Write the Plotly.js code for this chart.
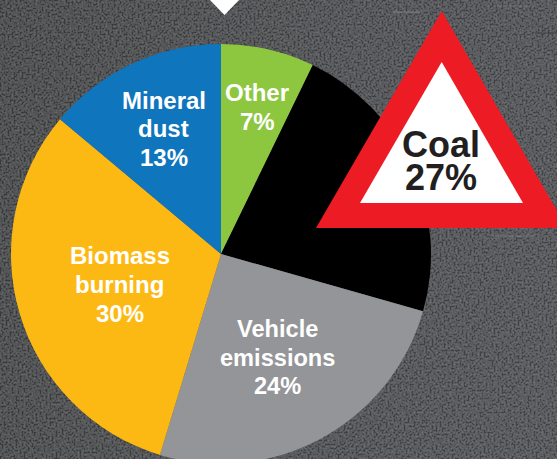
<!DOCTYPE html>
<html>
<head>
<meta charset="utf-8">
<script src="https://cdn.plot.ly/plotly-3.0.1.min.js"></script>
<style>
html,body{margin:0;padding:0;width:557px;height:459px;overflow:hidden;background:#55565a;}
#bg{position:absolute;left:0;top:0;width:557px;height:459px;
 background:linear-gradient(100deg,#4a4c4e 0%,#525457 45%,#585a5f 100%);}
#noise{position:absolute;left:0;top:0;width:557px;height:459px;opacity:.25;}
#chart{position:absolute;left:0;top:0;width:557px;height:480px;}
</style>
</head>
<body>
<div id="bg"></div>
<svg id="noise" width="557" height="459"><filter id="n" x="0" y="0" width="100%" height="100%"><feTurbulence type="fractalNoise" baseFrequency="0.5" numOctaves="2" seed="4"/><feColorMatrix type="matrix" values="1 0 0 0 -0.36  1 0 0 0 -0.36  1 0 0 0 -0.36  0 0 0 0 1"/></filter><rect width="557" height="459" filter="url(#n)"/></svg>
<div id="chart"></div>
<script>
// Sector shares as drawn (measured from the wedge angles in the picture)
var categories = ["Other", "Coal", "Vehicle emissions", "Biomass burning", "Mineral dust"];
var drawnShares = [7.2, 22.2, 25.3, 31.4, 13.9];
// Percentages as printed on the chart
var printedPercent = ["7%", "27%", "24%", "30%", "13%"];
var labelLines = [["Other"], ["Coal"], ["Vehicle", "emissions"], ["Biomass", "burning"], ["Mineral", "dust"]];
var sliceColors = ["#8dc63f", "#000000", "#939598", "#fdb913", "#0f75bd"];

var W = 557, H = 480;
function px(x){ return x / W; }
function py(y){ return 1 - y / H; }

// label block layout: centre x, first line y, line step, font size, colour
var blocks = [
  {x:257, y:93,  step:28.5, size:24, color:"#ffffff"},
  {x:440.5, y:145, step:32.5, size:36, color:"#231f20"},
  {x:277.5, y:329, step:28.5, size:23.6, color:"#ffffff"},
  {x:119.5, y:255, step:29,   size:24, color:"#ffffff"},
  {x:163.5, y:100, step:28.5, size:24, color:"#ffffff"}
];
var annotations = [];
categories.forEach(function(c, i){
  var lines = labelLines[i].concat([printedPercent[i]]);
  var b = blocks[i];
  lines.forEach(function(t, k){
    annotations.push({
      text: t, xref:"paper", yref:"paper", showarrow:false,
      x: px(b.x), y: py(b.y + k * b.step), xanchor:"center", yanchor:"middle",
      font:{family:"Liberation Sans, Arial, sans-serif", size:b.size, color:b.color, weight:700}
    });
  });
});

function tri(a, b, c){
  return "M" + px(a[0]) + "," + py(a[1]) + " L" + px(b[0]) + "," + py(b[1]) + " L" + px(c[0]) + "," + py(c[1]) + " Z";
}
function streak(x0, x1, y, color){
  return {type:"line", xref:"paper", yref:"paper", x0:px(x0), x1:px(x1), y0:py(y), y1:py(y),
          line:{color:color, width:1}, layer:"below"};
}
var shapes = [
  streak(393, 422, 12, "rgba(170,175,180,0.4)"),
  streak(495, 530, 6, "rgba(170,175,170,0.25)"),
  streak(535, 557, 33, "rgba(25,25,30,0.45)"),
  streak(490, 535, 236, "rgba(170,175,170,0.3)"),
  {type:"path", xref:"paper", yref:"paper", path:tri([441.7,11],[316,228],[567,228]), fillcolor:"#ed1c24", line:{width:0}},
  {type:"path", xref:"paper", yref:"paper", path:tri([441.7,62],[360,203],[523,203]), fillcolor:"#ffffff", line:{width:0}},
  {type:"path", xref:"paper", yref:"paper", path:tri([224.5,15],[208,-2],[241,-2]), fillcolor:"#ffffff", line:{width:0}}
];

Plotly.newPlot("chart", [{
  type:"pie",
  labels: categories,
  values: drawnShares,
  sort:false,
  direction:"clockwise",
  rotation:0,
  textinfo:"none",
  hoverinfo:"label",
  marker:{colors:sliceColors, line:{width:0}},
  domain:{x:[px(11), px(431)], y:[py(464), py(44)]},
  showlegend:false
}], {
  width:W, height:H,
  margin:{l:0,r:0,t:0,b:0,pad:0},
  paper_bgcolor:"rgba(0,0,0,0)",
  plot_bgcolor:"rgba(0,0,0,0)",
  showlegend:false,
  annotations:annotations,
  shapes:shapes
}, {displayModeBar:false, staticPlot:true});
</script>
</body>
</html>
